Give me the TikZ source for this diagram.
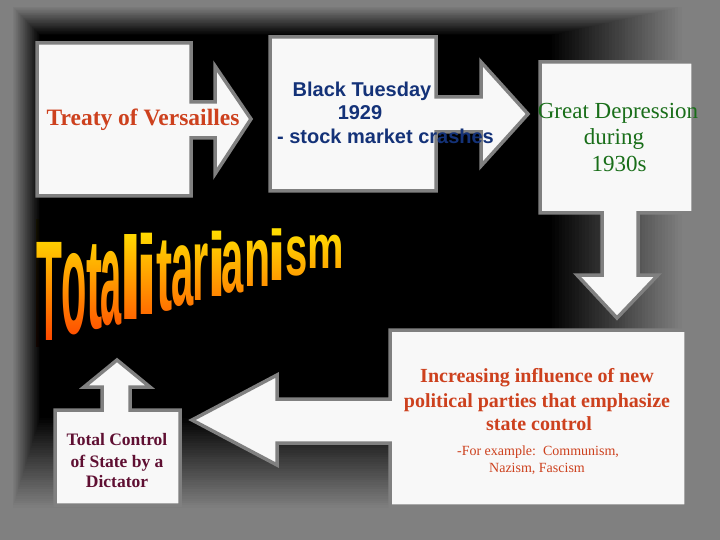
\documentclass[tikz,border=0pt]{standalone}
\usepackage{fontspec}
\setmainfont{Liberation Serif}
\newfontfamily\arialf{Liberation Sans}
\definecolor{bggray}{RGB}{128,128,128}
\definecolor{boxfill}{RGB}{248,248,248}
\definecolor{boxline}{RGB}{128,128,128}
\definecolor{redorange}{RGB}{205,65,30}
\definecolor{navyblue}{RGB}{20,50,120}
\definecolor{dgreen}{RGB}{25,110,25}
\definecolor{maroonc}{RGB}{95,15,50}
\definecolor{waTop}{RGB}{255,235,0}
\definecolor{waMid}{RGB}{255,180,0}
\definecolor{waBot}{RGB}{255,65,0}
\tikzset{
  boxsh/.style={fill=boxfill, draw=boxline, line width=3.5pt, line join=miter},
  lbl/.style={anchor=base, inner sep=0pt, outer sep=0pt},
  waletter/.style={font=\arialf\bfseries\fontsize{10}{12}\selectfont, inner sep=0pt, outer sep=0pt, anchor=base, transform shape, text=white}
}
\begin{document}
\begin{tikzpicture}[x=1pt,y=-1pt]
\useasboundingbox (0,0) rectangle (720,540);
% background vignette
\fill[bggray] (0,0) rectangle (720,540);
\foreach \bgi in {0,...,40}{
  \pgfmathsetmacro\bgt{\bgi/40}
  \pgfmathsetmacro\bgxa{12+28*\bgt}
  \pgfmathsetmacro\bgya{6+29*\bgt}
  \pgfmathsetmacro\bgxb{685-133*\bgt}
  \pgfmathsetmacro\bgyb{510-92*\bgt}
  \pgfmathsetmacro\bgc{100*\bgt}
  \fill[black!\bgc!bggray] (\bgxa,\bgya) rectangle (\bgxb,\bgyb);
}
% WordArt: white letters, then a gradient multiplied over them
\foreach \wach/\wacx/\waw/\waink/\waref in {T/49.5/25/.59/.716, o/74/22/.53/.649, t/94.5/15/.31/.716, a/111.5/19/.50/.649, l/130.5/13/.146/.716, i/146.5/12/.146/.716, t/164.5/15/.31/.716, a/183/20/.50/.649, r/200.5/15/.36/.649, i/217/10/.146/.716, a/233/20/.50/.649, n/257.5/21/.49/.649, i/277/10/.146/.716, s/297/20/.50/.649, m/326/32/.78/.649}{%
  \pgfmathsetmacro\wasx{\waw/(10*\waink)}%
  \pgfmathsetmacro\wasy{(102-0.224*(\wacx-50))/(10*\waref)}%
  \pgfmathsetmacro\waby{340-0.26*(\wacx-50)}%
  \begin{scope}[shift={(\wacx,\waby)},xscale=\wasx,yscale=\wasy]
    \node[waletter] (wl) at (0,0) {\wach};
  \end{scope}
}
\shade[blend mode=multiply, top color=waTop, middle color=waMid, bottom color=waBot] (36,220) rectangle (350,346);
% box 1
\draw[boxsh] (37,43) -- (191,43) -- (191,102) -- (215,102) -- (215,66) -- (251,119) -- (215,174) -- (215,138) -- (191,138) -- (191,196) -- (37,196) -- cycle;
% box 2
\draw[boxsh] (270,37) -- (436,37) -- (436,97) -- (481,97) -- (481,62) -- (528,114) -- (481,166) -- (481,132) -- (436,132) -- (436,191) -- (270,191) -- cycle;
% box 3
\draw[boxsh] (540,62) -- (693,62) -- (693,213) -- (638,213) -- (638,275) -- (658,275) -- (617,318) -- (577,275) -- (602,275) -- (602,213) -- (540,213) -- cycle;
% box 4
\draw[boxsh] (390,330) -- (686,330) -- (686,506) -- (390,506) -- (390,443) -- (277,443) -- (277,465) -- (192,420) -- (277,375) -- (277,399) -- (390,399) -- cycle;
% box 5
\draw[boxsh] (55,410) -- (102,410) -- (102,387) -- (84,387) -- (117,360) -- (150,387) -- (130,387) -- (130,410) -- (180,410) -- (180,505) -- (55,505) -- cycle;
% texts
\node[lbl, font=\bfseries\fontsize{23.5}{28}\selectfont, text=redorange] (treaty) at (143,126) {Treaty of Versailles};
\node[lbl, font=\arialf\bfseries\fontsize{20}{24}\selectfont, text=navyblue] (bt1) at (362,97) {Black Tuesday};
\node[lbl, font=\arialf\bfseries\fontsize{20}{24}\selectfont, text=navyblue] (bt2) at (360,120) {1929};
\node[lbl, font=\arialf\bfseries\fontsize{20}{24}\selectfont, text=navyblue] (bt3) at (385.5,144) {- stock market crashes};
\node[lbl, font=\fontsize{23}{27}\selectfont, text=dgreen] (gd1) at (618,119) {Great Depression};
\node[lbl, font=\fontsize{23}{27}\selectfont, text=dgreen] (gd2) at (614,145) {during};
\node[lbl, font=\fontsize{23}{27}\selectfont, text=dgreen] (gd3) at (619,172) {1930s};
\node[lbl, font=\bfseries\fontsize{20}{24}\selectfont, text=redorange] (in1) at (537,382) {Increasing influence of new};
\node[lbl, font=\bfseries\fontsize{20}{24}\selectfont, text=redorange] (in2) at (537,407) {political parties that emphasize};
\node[lbl, font=\bfseries\fontsize{20}{24}\selectfont, text=redorange] (in3) at (539,430) {state control};
\node[lbl, font=\fontsize{14}{17}\selectfont, text=redorange] (ex1) at (538,455) {-For example:\ \ Communism,};
\node[lbl, font=\fontsize{14}{17}\selectfont, text=redorange] (ex2) at (537,472) {Nazism, Fascism};
\node[lbl, font=\bfseries\fontsize{17.5}{21}\selectfont, text=maroonc] (tc1) at (117,445) {Total Control};
\node[lbl, font=\bfseries\fontsize{17.5}{21}\selectfont, text=maroonc] (tc2) at (117,467) {of State by a};
\node[lbl, font=\bfseries\fontsize{17.5}{21}\selectfont, text=maroonc] (tc3) at (117,487) {Dictator};
\end{tikzpicture}
\end{document}
